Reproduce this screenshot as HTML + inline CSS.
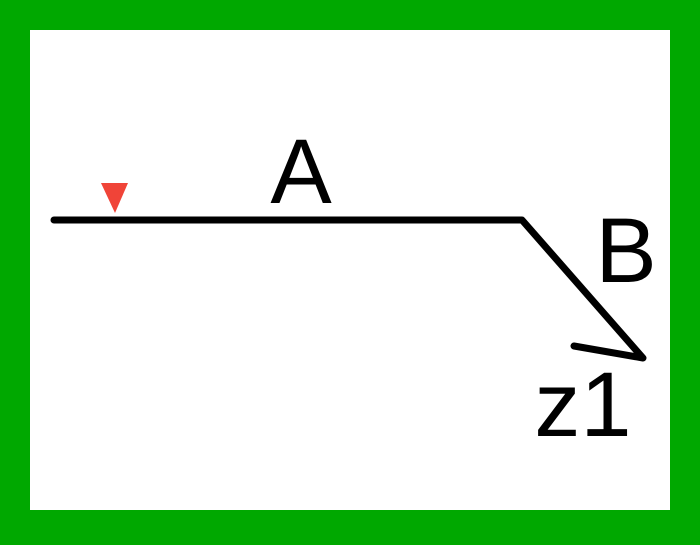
<!DOCTYPE html>
<html><head><style>
html,body{margin:0;padding:0;background:#00a800;}
</style></head><body>
<svg width="700" height="540" xmlns="http://www.w3.org/2000/svg">
<rect x="0" y="0" width="700" height="540" fill="#00a800"/>
<rect x="30" y="30" width="640" height="480" fill="#fff"/>
<polygon points="101,183 128,183 115,213" fill="#f04438"/>
<polyline points="54,220 522,220 643,358 574,346" fill="none" stroke="#000" stroke-width="7" stroke-linecap="round" stroke-linejoin="round"/>
<g font-family="Liberation Sans, sans-serif" fill="#000" font-size="92">
<text x="301" y="203" text-anchor="middle">A</text>
<text x="626" y="282" text-anchor="middle">B</text>
<text x="583" y="436" text-anchor="middle">z1</text>
</g>
</svg>
</body></html>
